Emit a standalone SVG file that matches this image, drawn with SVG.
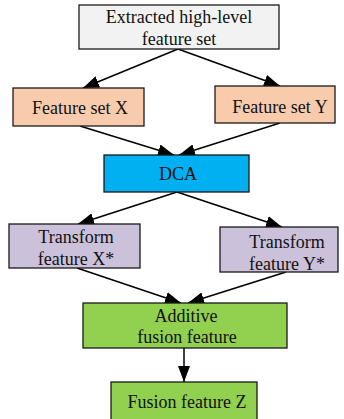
<svg xmlns="http://www.w3.org/2000/svg" width="344" height="419" viewBox="0 0 344 419">
<style>
.box{stroke:#1a1a1a;stroke-width:1.3}
.t{font-family:"Liberation Serif","Times New Roman",serif;font-size:18px;fill:#111;text-anchor:middle}
.edge{stroke:#000;stroke-width:1.5;fill:none;marker-end:url(#ah)}
</style>
<defs>
<marker id="ah" markerUnits="userSpaceOnUse" markerWidth="16" markerHeight="12" refX="16" refY="6" orient="auto">
<path d="M0,0 L16,6 L0,12 z" fill="#000"/>
</marker>
</defs>
<rect width="344" height="419" fill="#fff"/>
<g id="connectors">
<line class="edge" x1="178" y1="49" x2="83" y2="88"/>
<line class="edge" x1="178" y1="49" x2="280" y2="86"/>
<line class="edge" x1="80" y1="126" x2="174" y2="155"/>
<line class="edge" x1="280" y1="123" x2="179" y2="155"/>
<line class="edge" x1="177" y1="192" x2="78" y2="224"/>
<line class="edge" x1="177" y1="192" x2="282" y2="227"/>
<line class="edge" x1="77" y1="268" x2="181" y2="303"/>
<line class="edge" x1="286" y1="272" x2="188" y2="303"/>
<line class="edge" x1="184" y1="348" x2="184" y2="382"/>
</g>
<g id="extracted">
<rect class="box" x="79" y="5" width="200" height="44" fill="#F2F2F2"/>
<text class="t" x="179" y="23">Extracted high-level</text>
<text class="t" x="179" y="45">feature set</text>
</g>
<g id="featureX">
<rect class="box" x="13" y="88" width="131" height="38" fill="#F8CBAD"/>
<text class="t" x="80" y="114">Feature set X</text>
</g>
<g id="featureY">
<rect class="box" x="215" y="86" width="120" height="37" fill="#F8CBAD"/>
<text class="t" x="280" y="113">Feature set Y</text>
</g>
<g id="dca">
<rect class="box" x="104" y="155" width="145" height="37" fill="#00B0F0"/>
<text class="t" x="178" y="180">DCA</text>
</g>
<g id="transformX">
<rect class="box" x="9" y="224" width="131" height="44" fill="#CCC1DA"/>
<text class="t" x="76" y="243">Transform</text>
<text class="t" x="76" y="265">feature X*</text>
</g>
<g id="transformY">
<rect class="box" x="220" y="227" width="118" height="45" fill="#CCC1DA"/>
<text class="t" x="287" y="248">Transform</text>
<text class="t" x="287" y="270">feature Y*</text>
</g>
<g id="additive">
<rect class="box" x="83" y="303" width="204" height="45" fill="#92D050"/>
<text class="t" x="186" y="322">Additive</text>
<text class="t" x="187" y="343">fusion feature</text>
</g>
<g id="fusionZ">
<rect class="box" x="111" y="382" width="146" height="45" fill="#92D050"/>
<text class="t" x="187" y="408">Fusion feature Z</text>
</g>
</svg>
